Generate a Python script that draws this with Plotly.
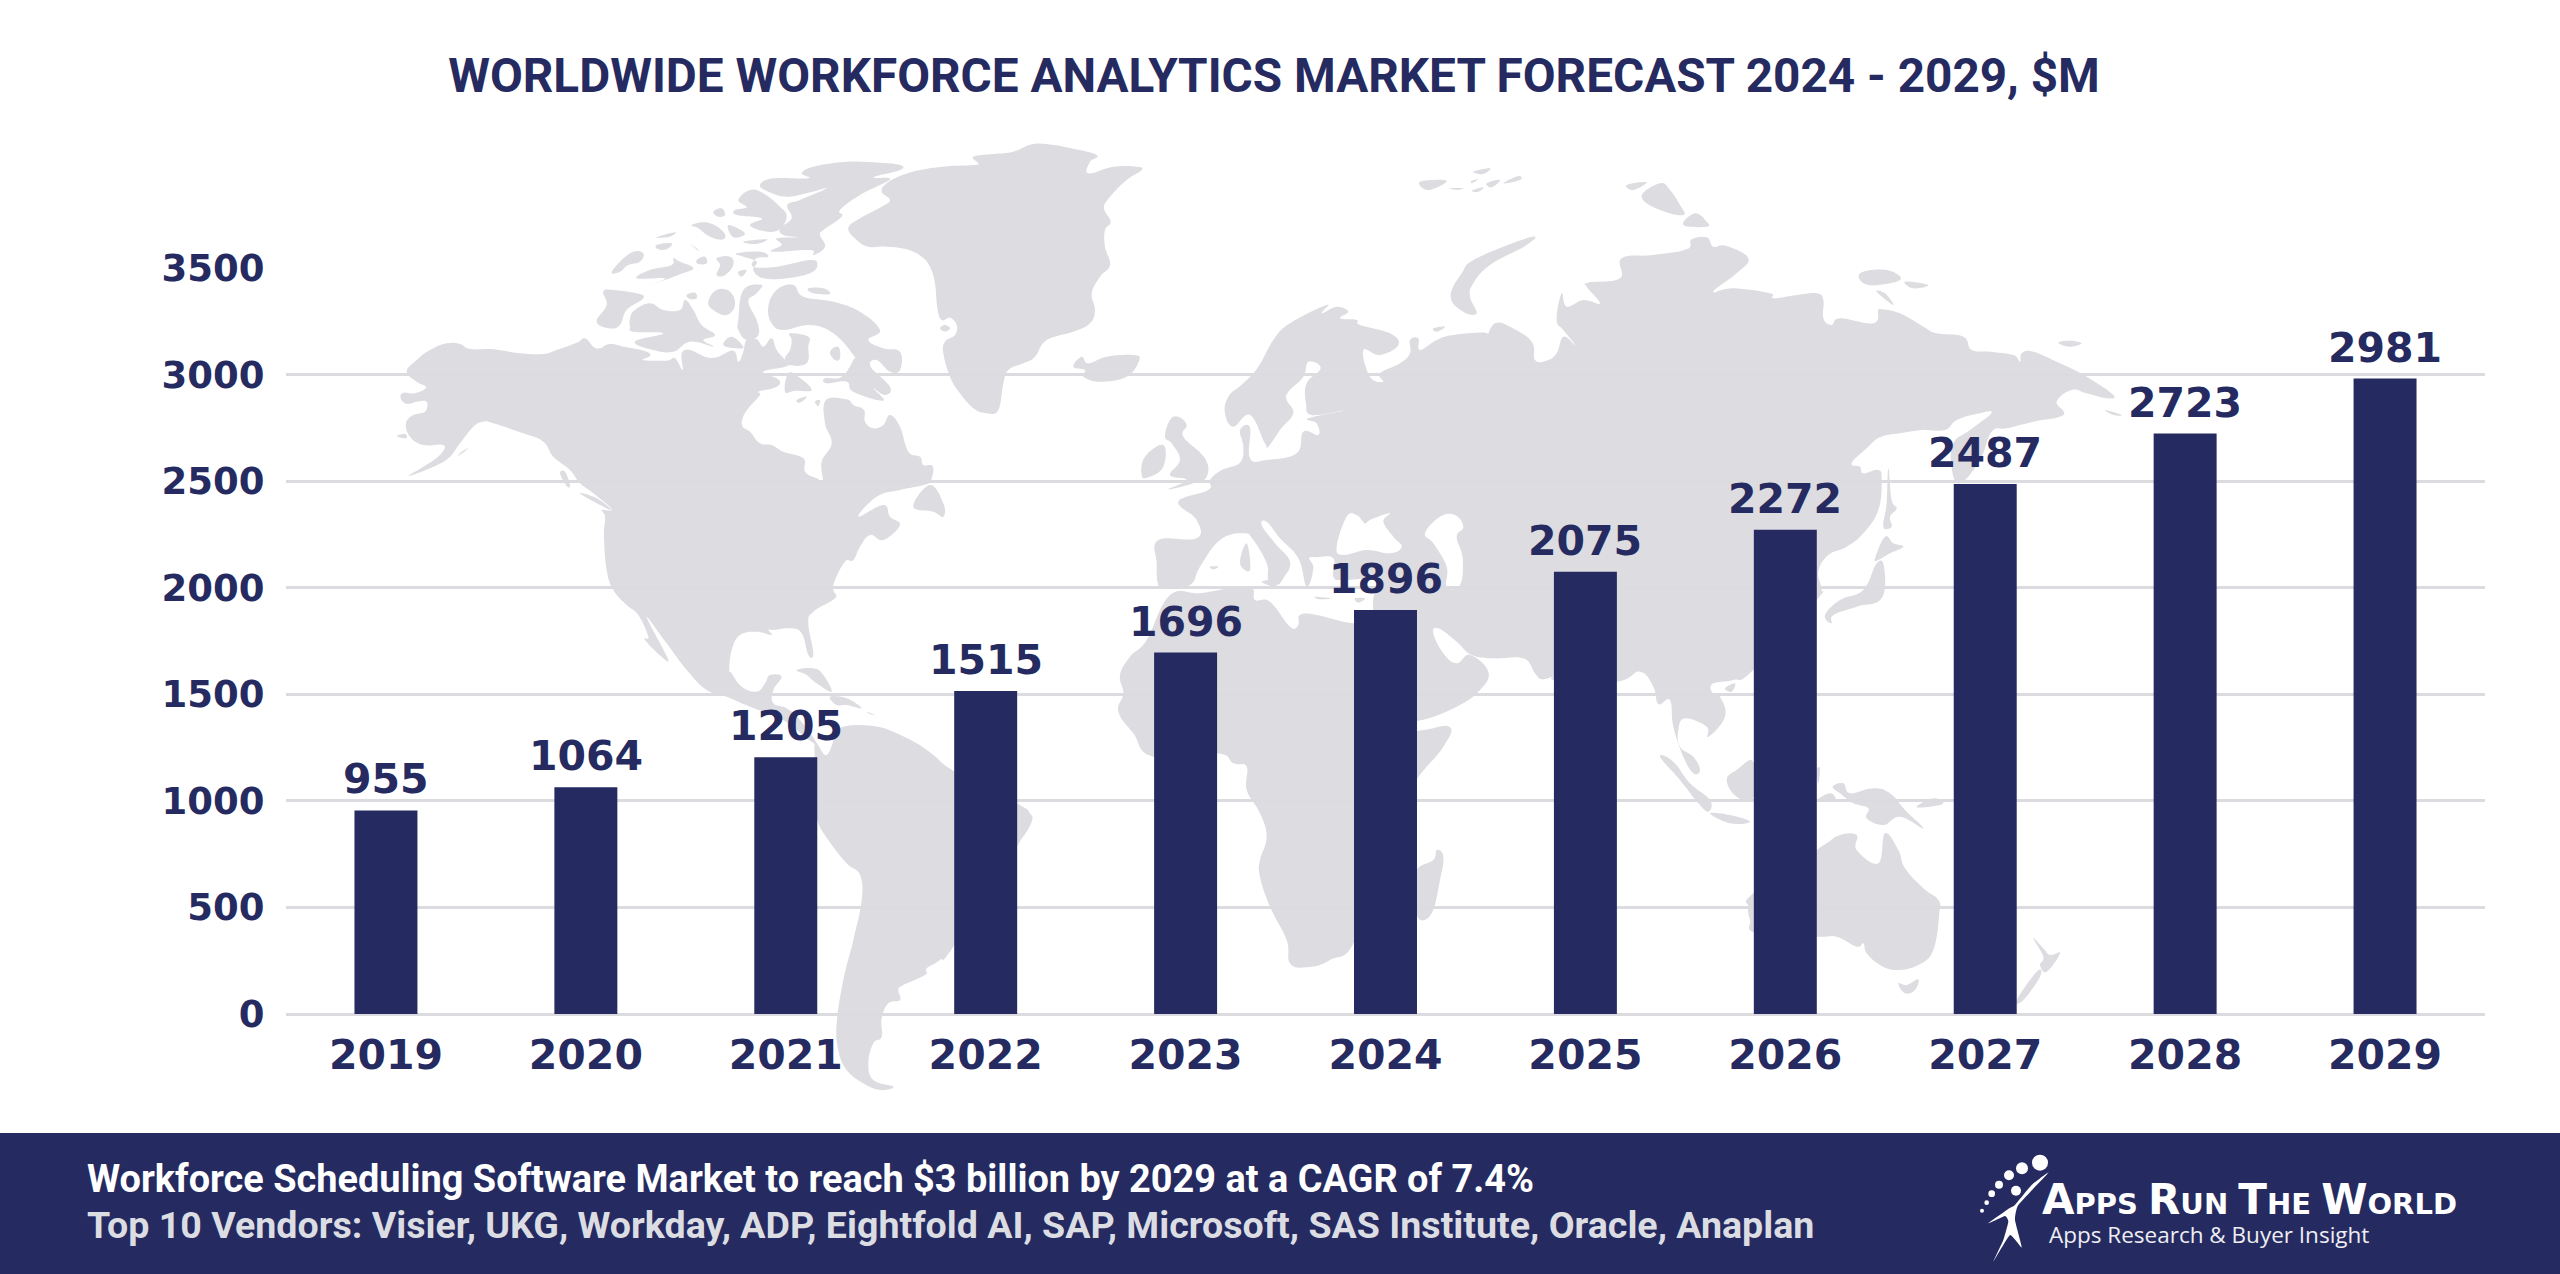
import plotly.graph_objects as go

years = ["2019", "2020", "2021", "2022", "2023", "2024", "2025", "2026", "2027", "2028", "2029"]
market_size = [955, 1064, 1205, 1515, 1696, 1896, 2075, 2272, 2487, 2723, 2981]
y_ticks = [0, 500, 1000, 1500, 2000, 2500, 3000, 3500]

title_text = "WORLDWIDE WORKFORCE ANALYTICS MARKET FORECAST 2024 - 2029, $M"
footer_1 = "Workforce Scheduling Software Market to reach $3 billion by 2029 at a CAGR of 7.4%"
footer_2 = "Top 10 Vendors: Visier, UKG, Workday, ADP, Eightfold AI, SAP, Microsoft, SAS Institute, Oracle, Anaplan"

NAVY = "#252b61"
LAND = "#dddce0"
GRID = "#dcdce0"

W, H = 2560, 1274
LEFT, RIGHT, TOP, BOTTOM = 286, 2485, 268, 1014

# background map outline, traced in pieces: frame name -> pixel origin of the piece (3x)
FRAMES = {"na": (380, 150), "eu": (900, 150), "ru": (1420, 150), "sa": (640, 640),
          "af": (1090, 560), "oc": (1590, 560), "fe": (1880, 300), "lg": (1960, 1140)}

LAND_SHAPES = [
    # north + central america
    [("na", "80,665 110,630 150,600 200,580 240,582 270,597 340,598 420,610 490,612 530,600 590,578 615,565 640,590 660,595 690,582 740,592 800,605 810,618 790,630 860,632 885,625 908,660 905,610 930,600 975,620 1010,622 1060,602 1075,635 1090,605 1100,570 1130,568 1150,590 1175,565 1190,600 1215,630 1222,648 1150,665 1190,685 1200,700 1180,715 1135,725 1140,735 1105,775 1088,805 1088,830 1110,845 1140,880 1175,885 1210,905 1270,925 1275,965 1310,985 1328,992 1325,935 1355,880 1335,820 1338,750 1400,748 1420,765 1452,780 1455,815 1480,835 1510,825 1530,795 1560,830 1585,905 1620,920 1630,945 1658,948 1655,985 1640,1003 1560,1020 1490,1040 1435,1100 1510,1065 1530,1100 1560,1125 1510,1170 1470,1155 1440,1190 1420,1230 1395,1235 1365,1290 1360,1320 1365,1345 1300,1385 1285,1420 1300,1510 1285,1515 1265,1450 1230,1435 1180,1440 1165,1440 1175,1455 1130,1445 1080,1455 1055,1500 1048,1560"),
     ("sa", "275,100 305,140 350,155 375,130 390,105 425,110 400,150 400,190 440,205 480,240 530,310 500,295 430,240 330,200 260,170 200,150 140,90"),
     ("na", "860,1480 800,1400 840,1480 865,1530 850,1525 795,1470 805,1460 775,1395 740,1365 700,1320 680,1260 672,1160 675,1100 665,1080 695,1078 640,1030 600,1000 570,960 520,920 490,875 430,850 340,820 310,815 280,830 240,880 205,925 150,955 85,978 130,950 180,915 190,885 130,885 90,860 78,820 100,795 135,785 140,755 110,755 80,762 62,745 70,728 105,730 138,712 110,695")],
    # south america
    [("sa", "525,310 560,345 590,280 620,258 700,258 760,275 830,310 880,345 945,395 1130,490 1170,520 1175,545 1150,590 1130,620 940,920 900,960 860,985 855,1005 790,1035 775,1050 780,1080 745,1090 725,1135 725,1190 700,1210 685,1270 700,1320 760,1340 720,1350 670,1330 620,1290 595,1230 590,1150 610,1020 640,900 665,780 660,705 620,670 565,600 530,530 530,420")],
    # greenland
    [("eu", "220,20 280,12 340,5 400,-18 460,-15 500,-8 590,15 570,35 565,70 640,50 710,50 725,60 680,90 630,140 612,175 632,215 615,240 615,290 630,345 600,380 575,430 585,480 570,520 520,545 440,570 405,620 370,640 325,660 310,700 295,780 260,790 220,775 180,730 150,680 130,610 135,575 165,555 170,525 150,503 125,510 112,475 105,400 90,350 65,320 20,298 -40,290 -95,290 -130,270 -155,235 -120,205 -55,170 -30,150 -55,125 -40,100 0,78 60,60 130,50 220,45 235,40")],
    [("eu", "120,535 135,525 150,535 135,545")],
    # canadian arctic
    [("na", "1265,70 1300,50 1400,35 1500,38 1560,45 1560,60 1480,82 1530,88 1440,135 1380,180 1385,200 1330,240 1320,255 1335,290 1300,315 1290,300 1175,305 1205,285 1190,265 1250,262 1210,255 1200,235 1235,205 1222,165 1260,150 1340,115 1280,130 1220,140 1165,125 1140,105 1180,85 1285,85")],
    [("na", "1075,150 1110,120 1150,130 1200,170 1220,200 1195,240 1150,243 1110,225 1145,205 1070,195 1065,180 1100,172")],
    [("na", "1000,185 1025,175 1035,195 1015,200")],
    [("na", "935,225 985,218 1030,245 1030,268 990,260 955,235")],
    [("na", "1045,225 1095,250 1060,262")],
    [("na", "1090,275 1160,268 1130,282")],
    [("na", "830,262 885,247 870,260")],
    [("na", "830,285 875,280 860,298 835,298")],
    [("na", "932,282 950,295 955,303")],
    [("na", "695,368 720,335 760,305 790,310 780,335 745,345 720,365")],
    [("na", "770,385 810,360 875,345 880,325 900,335 940,355 895,375 810,405 855,385")],
    [("na", "950,330 975,320 980,340 955,342")],
    [("na", "1010,325 1050,320 1060,345 1035,375 1010,375 1020,345")],
    [("na", "1070,310 1140,305 1165,320 1130,325 1120,350 1190,350 1290,330 1312,345 1290,370 1220,385 1150,385 1120,360 1130,335 1090,320")],
    [("na", "1075,365 1100,360 1085,380")],
    [("na", "670,425 700,420 770,430 790,445 740,480 720,525 690,535 650,515 680,465")],
    [("na", "750,505 765,480 810,460 850,480 900,480 915,450 940,480 965,525 1005,555 970,570 1000,590 930,575 880,605 820,600 765,575 850,550 760,545 750,530")],
    [("na", "920,435 945,428 950,445 930,447")],
    [("na", "985,455 1010,420 1050,425 1065,465 1040,495 1000,480")],
    [("na", "1075,510 1090,420 1145,405 1130,430 1105,455 1130,510 1135,555 1100,570 1075,540")],
    [("na", "1165,470 1190,420 1240,405 1270,440 1360,455 1440,485 1500,540 1465,570 1510,595 1560,605 1560,660 1530,665 1490,630 1472,650 1530,710 1515,735 1480,715 1510,752 1420,725 1400,695 1340,700 1335,685 1385,680 1420,630 1420,615 1360,550 1290,525 1210,540 1175,520")],
    [("na", "1350,605 1375,590 1380,625 1365,630")],
    [("na", "1230,550 1285,560 1285,590 1280,640 1225,645 1215,625 1230,600 1235,570")],
    [("na", "1285,415 1330,415 1350,432 1300,430")],
    [("na", "1215,725 1225,670 1255,680 1295,720 1245,722")],
    [("na", "1250,750 1280,740 1260,758")],
    [("na", "1305,755 1320,750 1315,768")],
    [("na", "1030,585 1055,560 1090,590 1070,595")],
    [("na", "50,858 75,852 78,865")],
    [("na", "235,918 265,895 245,905")],
    [("na", "540,970 555,965 570,1005 560,1008")],
    [("na", "600,1030 650,1045 695,1080 660,1065")],
    [("eu", "40,1070 90,1005 130,1060 130,1100 100,1085")],
    # caribbean
    [("sa", "470,90 520,85 550,105 575,155 530,130 500,105")],
    [("sa", "570,170 620,175 665,205 620,195 590,195")],
    [("sa", "680,215 705,225 690,222")],
    # africa + madagascar
    [("af", "240,105 330,100 420,85 485,85 495,120 540,125 600,200 625,195 630,165 680,165 790,190 850,175 870,350 900,500 985,512 1078,500 1060,560 975,665 900,800 800,1130 720,1200 650,1222 600,1210 590,1140 540,1040 510,950 510,900 530,830 510,760 470,690 470,620 430,610 380,580 190,590 130,520 85,455 100,400 90,345 120,290 170,240")],
    [("af", "980,930 1030,900 1040,870 1060,890 1050,960 1025,1060 985,1075 978,1000")],
    # eurasia
    [("eu", "775,1170 890,1165 890,1110 835,1055 925,1020 930,990 965,960 1020,938 1030,890 1020,840 1050,832 1050,925 1100,930 1190,910 1210,845 1255,855 1250,820 1225,805 1330,782 1235,795 1218,760 1220,700 1262,655 1225,635 1210,680 1165,725 1160,750 1180,790 1140,840 1105,890 1095,880 1050,795 1000,830 975,790 985,740 1030,700 1075,650 1120,570 1170,520 1280,465 1265,490 1310,470 1345,485 1320,505 1370,510 1380,525 1470,550 1495,585 1440,615 1390,600 1410,680 1450,695 1440,670 1500,640 1530,610 1530,570 1555,565"),
     ("ru", "0,600 50,570 100,555 195,548 200,560 225,520 270,530 335,575 345,630 380,632 410,610 430,560 465,585 430,540 410,510 425,430 440,470 490,450 540,460 500,410 505,398 600,385 605,325 700,315 800,298 815,268 860,262 880,290 920,288 985,325 950,370 880,425 940,415 1050,430 1060,445 1130,435 1190,430 1210,450 1210,505 1235,525 1260,505 1360,520 1375,480"),
     ("fe", "0,27 60,40 130,80 170,100 250,110 275,150 330,155 400,165 420,185 425,160 460,155 540,190 620,230 700,285 680,295 620,280 575,270 530,305 550,345 460,365 380,385 335,395 300,480 240,550 215,505 220,430 270,390 335,338 290,342 230,360 195,390 130,390 60,400 0,412"),
     ("ru", "1340,895 1295,940 1320,950 1330,970 1375,960 1385,990 1375,1080 1330,1150 1280,1190 1225,1215 1195,1265 1205,1320 1190,1350"),
     ("oc", "490,330 430,360 370,370 365,395 390,410 405,470 355,530 350,500 285,475 265,510 270,560 310,590 330,630 310,640 280,590 250,500 240,420 205,432 190,380 150,335 80,365"),
     ("af", "1400,360 1390,350 1355,358 1335,340 1300,295 1210,295 1145,285 1100,245 1045,205 1030,220 1060,280 1100,310 1140,285 1195,335 1170,390 1100,440 985,482 900,470 850,300 850,180 850,115 860,60 760,60"),
     ("eu", "1300,1280 1300,1225 1250,1222 1228,1225 1240,1255 1220,1310 1195,1225 1140,1165 1100,1115 1085,1125 1125,1180 1170,1235 1150,1285 1130,1305 1105,1290 1100,1240 1060,1170 1030,1150 960,1170 900,1250 870,1305 800,1310 775,1305 770,1240")],
    # europe islands
    [("eu", "520,650 545,620 565,640 620,620 700,615 718,630 680,680 600,695 550,680 555,660")],
    [("eu", "795,860 810,810 835,800 860,825 850,860 915,925 920,980 880,1000 805,1018 860,990 810,975 840,930 815,880")],
    [("eu", "725,975 735,920 790,885 790,950 745,982")],
    [("eu", "1020,1240 1040,1180 1050,1260")],
    [("eu", "930,1250 955,1250 940,1258")],
    [("eu", "1085,1295 1125,1290 1125,1310")],
    [("eu", "1245,1340 1295,1345 1260,1348")],
    [("eu", "1365,1345 1395,1345 1375,1358")],
    # russian arctic
    [("ru", "92,440 125,370 170,325 330,262 320,285 210,345 160,400 150,440 170,490 130,485")],
    [("ru", "0,95 80,92 25,120")],
    [("ru", "155,92 175,88 155,100")],
    [("ru", "200,100 240,90 215,112")],
    [("ru", "250,100 295,78 300,90")],
    [("ru", "160,65 210,55 190,72")],
    [("ru", "155,122 190,112 175,125")],
    [("ru", "90,115 130,115 110,120")],
    [("ru", "620,105 680,97 640,120")],
    [("ru", "665,140 720,100 750,120 780,165 790,195 720,180")],
    [("ru", "790,225 825,190 860,215 860,230")],
    [("ru", "1320,370 1400,360 1440,390 1345,405")],
    [("ru", "1455,395 1525,405 1480,415")],
    [("ru", "1370,425 1395,430 1420,465")],
    [("ru", "40,535 75,530 50,545")],
    [("fe", "535,128 570,122 605,130 570,140")],
    [("fe", "675,330 725,345 700,345")],
    # japan + sakhalin
    [("ru", "1390,1130 1400,1060 1405,955 1415,1050 1430,1075 1410,1100 1415,1130")],
    [("ru", "1365,1225 1395,1160 1420,1180 1450,1190 1410,1210 1375,1230")],
    [("ru", "1215,1395 1260,1350 1330,1320 1370,1240 1392,1250 1385,1345 1310,1370 1240,1395 1235,1420")],
    # south east asia + oceania
    [("oc", "210,590 250,605 300,670 360,720 355,755 325,730 270,660")],
    [("oc", "360,760 420,765 480,785 420,790")],
    [("oc", "410,660 440,630 490,605 490,715 440,710")],
    [("oc", "680,630 690,625 685,670")],
    [("oc", "405,385 435,370 425,395")],
    [("oc", "728,680 760,670 780,700 850,685 900,700 945,750 1000,805 930,770 880,795 830,775 835,745 790,730 750,700")],
    [("oc", "680,720 720,700 735,720 690,720")],
    [("oc", "980,740 1030,715 1060,730 1020,740")],
    [("oc", "475,1040 490,1000 680,870 710,850 750,825 800,825 800,870 865,910 885,820 925,870 945,925 1000,985 1045,1020 1048,1060 1030,1170 985,1215 920,1230 870,1215 830,1180 820,1150 800,1160 740,1130 680,1130 500,1120 480,1080")],
    [("oc", "925,1270 950,1275 985,1258 975,1290 945,1300")],
    [("oc", "1330,1135 1360,1165 1380,1185 1410,1180 1370,1235 1350,1215 1360,1190")],
    [("oc", "1280,1320 1340,1235 1350,1250 1300,1320")],
]

# inland seas, painted over the land
SEA_SHAPES = [
    [("eu", "1310,1190 1340,1100 1370,1095 1395,1120 1410,1110 1470,1090 1450,1115 1480,1160 1505,1190 1470,1210 1400,1200 1330,1215")],
    [("ru", "15,1150 60,1100 105,1095 130,1130 110,1160 128,1225 120,1305 80,1310 80,1250 40,1180")],
]

LOGO_FIGURE = [("lg", "265,98 215,135 165,195 148,205 85,250 135,228 145,245 130,300 100,365 150,285 185,322 165,240 175,195")]
LOGO_DOTS = [(240, 68, 24), (186, 85, 18), (147, 106, 15), (117, 134, 12), (95, 161, 10), (80, 188, 7), (66, 212, 6), (168, 152, 15)]


def px(x):
    return (x - LEFT) / (RIGHT - LEFT)


def py(y):
    return (BOTTOM - y) / (BOTTOM - TOP)


def to_path(parts, tension=0.6):
    pts = []
    for frame, s in parts:
        ox, oy = FRAMES[frame]
        for p in s.split():
            x, y = p.split(",")
            pts.append((ox + float(x) / 3, oy + float(y) / 3))
    n = len(pts)
    d = "M%.5f,%.5f" % (px(pts[0][0]), py(pts[0][1]))
    for i in range(n):
        p0, p1, p2, p3 = pts[i - 1], pts[i], pts[(i + 1) % n], pts[(i + 2) % n]
        c1 = (p1[0] + (p2[0] - p0[0]) * tension / 3, p1[1] + (p2[1] - p0[1]) * tension / 3)
        c2 = (p2[0] - (p3[0] - p1[0]) * tension / 3, p2[1] - (p3[1] - p1[1]) * tension / 3)
        d += " C%.5f,%.5f %.5f,%.5f %.5f,%.5f" % (px(c1[0]), py(c1[1]), px(c2[0]), py(c2[1]), px(p2[0]), py(p2[1]))
    return d + " Z"


shapes = []
for parts in LAND_SHAPES:
    shapes.append(dict(type="path", path=to_path(parts), xref="paper", yref="paper",
                       fillcolor=LAND, line_width=0, layer="below"))
for parts in SEA_SHAPES:
    shapes.append(dict(type="path", path=to_path(parts), xref="paper", yref="paper",
                       fillcolor="white", line_width=0, layer="below"))

# footer band
shapes.append(dict(type="rect", xref="paper", yref="paper", x0=px(0), x1=px(W), y0=py(1133), y1=py(H),
                   fillcolor=NAVY, line_width=0, layer="above"))
shapes.append(dict(type="path", path=to_path(LOGO_FIGURE, 0.2), xref="paper", yref="paper",
                   fillcolor="white", line_width=0, layer="above"))
for cx, cy, r in LOGO_DOTS:
    ox, oy = FRAMES["lg"]
    shapes.append(dict(type="circle", xref="paper", yref="paper",
                       x0=px(ox + (cx - r) / 3), x1=px(ox + (cx + r) / 3),
                       y0=py(oy + (cy + r) / 3), y1=py(oy + (cy - r) / 3),
                       fillcolor="white", line_width=0, layer="above"))

fig = go.Figure()
fig.add_trace(go.Bar(x=years, y=market_size, width=0.315, marker_color=NAVY, marker_line_width=0))


def note(x, y, text, size, color, family, anchor="left", bold=True):
    return dict(xref="paper", yref="paper", x=px(x), y=py(y), text=text, showarrow=False,
                xanchor=anchor, yanchor="middle",
                font=dict(family=family, size=size, color=color, weight="bold" if bold else "normal"))


# value labels sit a fixed distance above each bar
value_labels = [dict(x=i, y=v, text=str(v), showarrow=False, xanchor="center", yanchor="bottom", yshift=5,
                     font=dict(family="DejaVu Sans", size=41, color=NAVY, weight="bold"))
                for i, v in enumerate(market_size)]

logo_caps = ('<span style="font-size:42px">A</span>PPS <span style="font-size:42px">R</span>UN '
             '<span style="font-size:42px">T</span>HE <span style="font-size:42px">W</span>ORLD')

fig.update_layout(
    width=W, height=H,
    margin=dict(l=LEFT, r=W - RIGHT, t=TOP, b=H - BOTTOM, autoexpand=False),
    paper_bgcolor="white", plot_bgcolor="rgba(0,0,0,0)",
    showlegend=False,
    title=dict(text=title_text, x=1274 / W, y=1 - 75 / H, xanchor="center", yanchor="middle",
               font=dict(family="Roboto", size=47.7, color=NAVY, weight="bold")),
    xaxis=dict(type="category", range=[-0.5, 10.5], ticks="outside", ticklen=5, tickcolor="rgba(0,0,0,0)",
               showgrid=False, showline=False, zeroline=False,
               tickfont=dict(family="DejaVu Sans", size=41, color=NAVY, weight="bold")),
    yaxis=dict(range=[0, 3500], tickvals=y_ticks, showgrid=True, gridcolor=GRID, gridwidth=2.5,
               zeroline=True, zerolinecolor=GRID, zerolinewidth=2.5, showline=False,
               ticks="outside", ticklen=13, tickcolor="rgba(0,0,0,0)",
               tickfont=dict(family="DejaVu Sans", size=37, color=NAVY, weight="bold")),
    shapes=shapes,
    annotations=value_labels + [
        note(85, 1179, footer_1, 37.9, "white", "Roboto"),
        note(85, 1225, footer_2, 37.6, "#dcdde3", "Roboto"),
        note(2040, 1199, logo_caps, 29, "white", "DejaVu Sans"),
        note(2047, 1234, "Apps Research &amp; Buyer Insight", 22.5, "#eeeef2", "Open Sans", bold=False),
    ],
)

fig.write_html("out.html", config={"displayModeBar": False},
               post_script="document.body.style.margin='0';document.body.style.overflow='hidden';")
